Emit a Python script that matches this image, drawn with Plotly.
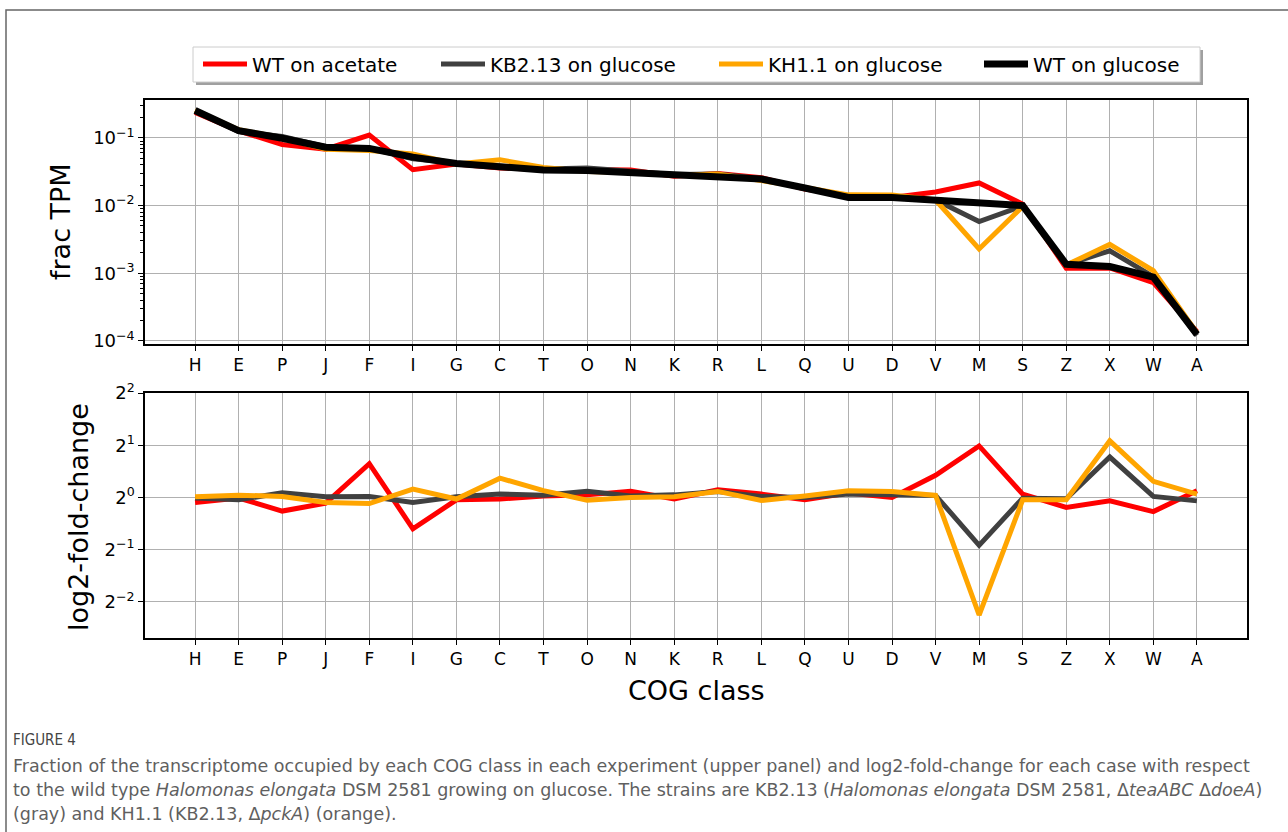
import plotly.graph_objects as go

cats = ["H","E","P","J","F","I","G","C","T","O","N","K","R","L","Q","U","D","V","M","S","Z","X","W","A"]

# upper panel: fraction of TPM
wt_acetate = [0.237,0.127,0.080,0.068,0.110,0.034,0.041,0.036,0.0343,0.0342,0.0336,0.0271,
              0.0299,0.0258,0.0176,0.0140,0.0132,0.0159,0.0216,0.0105,0.00119,0.00120,0.00073,0.000137]
kb213_glucose = [0.252,0.124,0.105,0.074,0.071,0.049,0.0424,0.0384,0.0347,0.0358,0.0316,0.0287,
                 0.0293,0.0250,0.0182,0.0138,0.0137,0.0121,0.0058,0.0099,0.00134,0.00215,0.00089,0.000120]
kh11_glucose = [0.256,0.132,0.100,0.068,0.065,0.058,0.041,0.0474,0.0367,0.0318,0.031,0.028,
                0.0293,0.0237,0.0186,0.0144,0.0143,0.0121,0.00229,0.0097,0.00132,0.00267,0.00109,0.000131]
wt_glucose = [0.254,0.128,0.099,0.073,0.070,0.052,0.042,0.0367,0.0336,0.033,0.031,0.0277,
              0.027,0.0247,0.0182,0.0132,0.0132,0.0118,0.0109,0.0100,0.00136,0.00126,0.00088,0.000125]

# lower panel: log2 fold change vs WT on glucose
fc_wt_acetate = [-0.097,-0.01,-0.26,-0.11,0.647,-0.60,-0.045,-0.03,0.03,0.05,0.117,-0.03,
                 0.148,0.065,-0.045,0.084,0.0,0.426,0.987,0.065,-0.19,-0.065,-0.27,0.13]
fc_kb213 = [-0.01,-0.045,0.09,0.013,0.02,-0.097,0.013,0.065,0.045,0.117,0.03,0.05,
            0.116,0.02,0.0,0.065,0.05,0.04,-0.916,-0.013,-0.026,0.774,0.02,-0.065]
fc_kh11 = [0.013,0.045,0.02,-0.097,-0.117,0.162,-0.03,0.37,0.13,-0.052,0.0,0.013,
           0.116,-0.058,0.03,0.13,0.116,0.04,-2.25,-0.045,-0.045,1.084,0.31,0.065]

series_names = ["WT on acetate","KB2.13 on glucose","KH1.1 on glucose","WT on glucose"]
colors = ["#ff0000","#404040","#ffa500","#000000"]
widths = [5,5,5,7]

top_tickvals = [1e-4,1e-3,1e-2,1e-1]
top_ticktext = ["10<sup>\u22124</sup>","10<sup>\u22123</sup>","10<sup>\u22122</sup>","10<sup>\u22121</sup>"]
bot_tickvals = [-2,-1,0,1,2]
bot_ticktext = ["2<sup>\u22122</sup>","2<sup>\u22121</sup>","2<sup>0</sup>","2<sup>1</sup>","2<sup>2</sup>"]

W, H = 1288, 832
FONT = "DejaVu Sans"
xidx = list(range(len(cats)))

def px(x): return x / W
def py(y): return 1 - y / H

legend_ids = ["legend", "legend2", "legend3", "legend4"]
legend_x = [198, 436, 714, 979]

fig = go.Figure()
for name, vals, c, w, lg in zip(series_names, [wt_acetate,kb213_glucose,kh11_glucose,wt_glucose],
                                colors, widths, legend_ids):
    fig.add_trace(go.Scatter(x=xidx, y=vals, mode="lines", name=name, legend=lg,
                             line=dict(color=c, width=w), xaxis="x", yaxis="y"))
for name, vals, c, w in zip(series_names[:3], [fc_wt_acetate,fc_kb213,fc_kh11], colors[:3], widths[:3]):
    fig.add_trace(go.Scatter(x=xidx, y=vals, mode="lines", name=name, showlegend=False,
                             line=dict(color=c, width=w), xaxis="x2", yaxis="y2"))

xl, xr = 145, 1247
axis_style = dict(showgrid=True, gridcolor="#b0b0b0", gridwidth=1, zeroline=False,
                  showline=True, linecolor="black", linewidth=1.5, mirror=True,
                  ticks="outside", ticklen=5, tickwidth=1.2, tickcolor="black", automargin=False)
common_x = dict(range=[-1.15, 24.15], tickmode="array", tickvals=xidx, ticktext=cats,
                tickfont=dict(family=FONT, size=17, color="black"), **axis_style)

layout_legends = {}
for lg, lx in zip(legend_ids, legend_x):
    layout_legends[lg] = dict(orientation="h", x=px(lx), y=py(64), xanchor="left", yanchor="middle",
                              bgcolor="rgba(0,0,0,0)", borderwidth=0,
                              font=dict(family=FONT, size=20, color="black"), itemwidth=44)

fig.update_layout(
    width=W, height=H, margin=dict(l=0, r=0, t=0, b=0, autoexpand=False),
    paper_bgcolor="white", plot_bgcolor="white",
    xaxis=dict(domain=[px(xl), px(xr)], anchor="y", **common_x),
    yaxis=dict(domain=[py(344), py(100)], anchor="x", type="log", range=[-4.045, -0.44],
               tickmode="array", tickvals=top_tickvals, ticktext=top_ticktext,
               minor=dict(ticks="outside", ticklen=3, tickwidth=1, tickcolor="black",
                          dtick="D1", showgrid=False),
               tickfont=dict(family=FONT, size=18, color="black"), **axis_style),
    xaxis2=dict(domain=[px(xl), px(xr)], anchor="y2", **common_x),
    yaxis2=dict(domain=[py(638), py(393)], anchor="x2", range=[-2.69, 2.0],
                tickmode="array", tickvals=bot_tickvals, ticktext=bot_ticktext,
                tickfont=dict(family=FONT, size=18, color="black"), **axis_style),
    showlegend=True,
    **layout_legends,
)

# legend frame with shadow
fig.add_shape(type="rect", xref="paper", yref="paper", x0=px(196), x1=px(1203), y0=py(85), y1=py(50),
              line=dict(width=0), fillcolor="#a0a0a0", layer="below")
fig.add_shape(type="rect", xref="paper", yref="paper", x0=px(193), x1=px(1200), y0=py(82), y1=py(47),
              line=dict(width=1, color="#cccccc"), fillcolor="white", layer="below")

# outer frame
fig.add_shape(type="path", xref="paper", yref="paper",
              path=f"M {px(6)},{py(H+2)} L {px(6)},{py(10)} L {px(W+2)},{py(10)}",
              line=dict(color="#666666", width=1.5))

# axis titles
fig.add_annotation(text="frac TPM", xref="paper", yref="paper", x=px(60), y=py(222),
                   xanchor="center", yanchor="middle",
                   textangle=-90, showarrow=False, font=dict(family=FONT, size=27, color="black"))
fig.add_annotation(text="log2-fold-change", xref="paper", yref="paper", x=px(78), y=py(517),
                   xanchor="center", yanchor="middle",
                   textangle=-90, showarrow=False, font=dict(family=FONT, size=27, color="black"))
fig.add_annotation(text="COG class", xref="paper", yref="paper", x=px(696), y=py(690),
                   xanchor="center", yanchor="middle",
                   showarrow=False, font=dict(family=FONT, size=27, color="black"))

# caption
CAP = "DejaVu Sans"
fig.add_annotation(text="FIGURE 4", xref="paper", yref="paper", x=px(11), y=py(740),
                   xanchor="left", yanchor="middle", showarrow=False,
                   font=dict(family="DejaVu Sans Condensed", size=15, color="#444444"))
cap_lines = [
    "Fraction of the transcriptome occupied by each COG class in each experiment (upper panel) and log2-fold-change for each case with respect",
    "to the wild type <i>Halomonas elongata</i> DSM 2581 growing on glucose. The strains are KB2.13 (<i>Halomonas elongata</i> DSM 2581, \u0394<i>teaABC</i> \u0394<i>doeA</i>)",
    "(gray) and KH1.1 (KB2.13, \u0394<i>pckA</i>) (orange).",
]
for i, t in enumerate(cap_lines):
    fig.add_annotation(text=t, xref="paper", yref="paper", x=px(11), y=py(766 + 24 * i),
                       xanchor="left", yanchor="middle", showarrow=False,
                       font=dict(family=CAP, size=17.5, color="#5f5f5f"))

fig.write_html("out.html",
               post_script="document.body.style.margin='0';document.body.style.overflow='hidden';")
